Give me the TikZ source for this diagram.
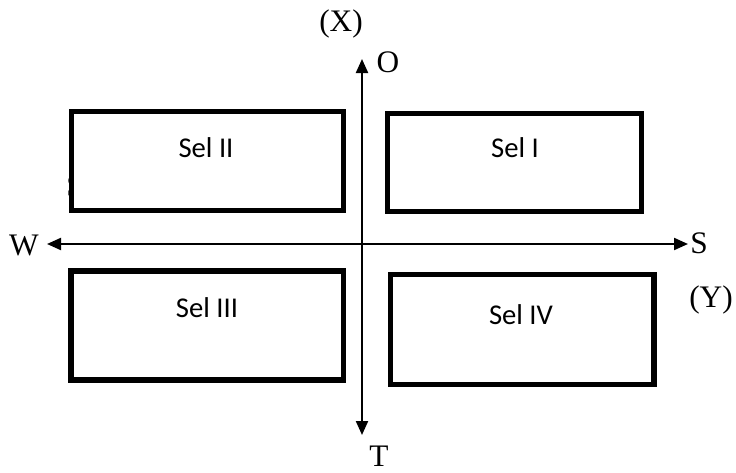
\documentclass[tikz,border=0pt]{standalone}
\usepackage{fontspec}
\setmainfont{Liberation Serif}
\newfontfamily\selfont{Carlito}
\usetikzlibrary{arrows.meta}
\begin{document}
\begin{tikzpicture}[x=0.75pt,y=-0.75pt,
  selbox/.style={draw=black,line width=4.1pt,fill=white},
  axis/.style={line width=1.6pt,{Triangle[length=10.5pt,width=9pt]}-{Triangle[length=10.5pt,width=9pt]}},
  lbl/.style={font=\fontsize{23.5}{25}\selectfont,inner sep=0pt},
  sel/.style={font=\selfont\fontsize{21.5}{23}\selectfont,inner sep=0pt}]
\useasboundingbox (0,0) rectangle (736,472);
% hidden fragment behind box II
\node[lbl] (frag) at (75,186) {S};
% boxes
\draw[selbox] (71.5,111.5) rectangle (343.5,210.5);
\draw[selbox] (387.5,113.5) rectangle (641.5,211.5);
\draw[selbox] (71,271) rectangle (343.5,380);
\draw[selbox] (390.5,274.5) rectangle (654,384.5);
% axes
\coordinate (top) at (362,59);
\coordinate (bot) at (362,435);
\coordinate (left) at (47,244);
\coordinate (right) at (688,244);
\draw[axis] (bot) -- (top);
\draw[axis] (left) -- (right);
% labels
\node[lbl] (X) at (341,24) {(X)};
\node[lbl] (O) at (388,62) {O};
\node[lbl] (W) at (24,245) {W};
\node[lbl] (S) at (699,243) {S};
\node[lbl] (Y) at (711,300) {(Y)};
\node[lbl] (T) at (379,456) {T};
\node[sel] (s2) at (206,148) {Sel II};
\node[sel] (s1) at (515,148) {Sel I};
\node[sel] (s3) at (207,308) {Sel III};
\node[sel] (s4) at (521,315) {Sel IV};
\end{tikzpicture}
\end{document}
